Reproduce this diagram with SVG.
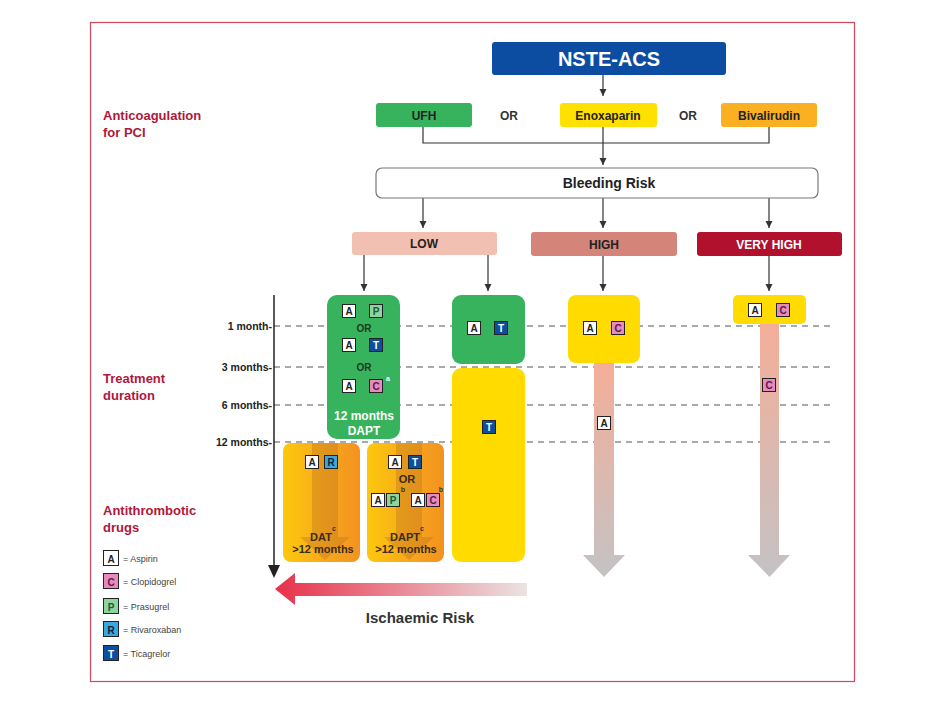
<svg xmlns="http://www.w3.org/2000/svg" width="945" height="720" viewBox="0 0 945 720">
<defs>
<style>
text{font-family:"Liberation Sans",Arial,sans-serif}
.lbl{font-size:13px;font-weight:bold;fill:#b0173a}
.bx{font-size:12px;font-weight:bold;fill:#222;text-anchor:middle}
.or{font-size:12px;font-weight:bold;fill:#333;text-anchor:middle}
.mo{font-size:10.5px;fill:#222;text-anchor:end;font-weight:bold}
.bt{font-size:10px;font-weight:bold;text-anchor:middle}
.lg{font-size:9px;fill:#444}
.sup{font-size:7px;fill:#333;text-anchor:middle;font-weight:bold}
.conn{stroke:#333;stroke-width:1.2;fill:none}
.dash{stroke:#555;stroke-width:1.2;stroke-dasharray:6 5;fill:none}
.bA{fill:#fff;stroke:#222;stroke-width:1}
.bC{fill:#e68ac0;stroke:#222;stroke-width:1}
.bP{fill:#8fd3a0;stroke:#222;stroke-width:1}
.bR{fill:#3aa8dd;stroke:#222;stroke-width:1}
.bT{fill:#0d4f9e;stroke:#222;stroke-width:1}
.ob{font-size:11px;fill:#3b2a18;text-anchor:middle;font-weight:bold}
</style>
<marker id="ah" viewBox="0 0 10 10" refX="10" refY="5" markerWidth="6" markerHeight="6" orient="auto-start-reverse"><path d="M0,0 L10,5 L0,10 z" fill="#333"/></marker>
<linearGradient id="og" x1="0" y1="0" x2="1" y2="0"><stop offset="0" stop-color="#fdc80c"/><stop offset="0.5" stop-color="#f8ab1c"/><stop offset="1" stop-color="#f39220"/></linearGradient>
<linearGradient id="pg" x1="0" y1="0" x2="0" y2="1"><stop offset="0" stop-color="#f4ae98"/><stop offset="1" stop-color="#c4c2c4"/></linearGradient>
<linearGradient id="rg" x1="0" y1="0" x2="1" y2="0"><stop offset="0" stop-color="#e8304a"/><stop offset="1" stop-color="#ebe3e3"/></linearGradient>
</defs>
<rect x="90.5" y="22.5" width="764" height="659" fill="#fff" stroke="#cf4a5c" stroke-width="1.2"/>

<!-- left labels -->
<g id="label-anticoag"><text class="lbl" x="103" y="120">Anticoagulation</text><text class="lbl" x="103" y="137">for PCI</text></g>
<g id="label-duration"><text class="lbl" x="103" y="383">Treatment</text><text class="lbl" x="103" y="400">duration</text></g>
<g id="label-drugs"><text class="lbl" x="103" y="515">Antithrombotic</text><text class="lbl" x="103" y="532">drugs</text></g>

<!-- timeline -->
<g id="timeline">
<line class="dash" x1="274" y1="326" x2="830" y2="326"/>
<line class="dash" x1="274" y1="367" x2="830" y2="367"/>
<line class="dash" x1="274" y1="405" x2="830" y2="405"/>
<line class="dash" x1="274" y1="442" x2="830" y2="442"/>
<text class="mo" x="272" y="330">1 month-</text>
<text class="mo" x="272" y="371">3 months-</text>
<text class="mo" x="272" y="409">6 months-</text>
<text class="mo" x="272" y="446">12 months-</text>
<line x1="274" y1="295" x2="274" y2="567" stroke="#222" stroke-width="1.5"/>
<path d="M268,565 L280,565 L274,578 z" fill="#222"/>
</g>

<!-- connectors -->
<g id="connectors">
<line class="conn" x1="603" y1="75" x2="603" y2="96" marker-end="url(#ah)"/>
<polyline class="conn" points="423,127 423,143 769,143 769,127"/>
<line class="conn" x1="603" y1="127" x2="603" y2="165" marker-end="url(#ah)"/>
<line class="conn" x1="423" y1="198" x2="423" y2="228" marker-end="url(#ah)"/>
<line class="conn" x1="603" y1="198" x2="603" y2="228" marker-end="url(#ah)"/>
<line class="conn" x1="769" y1="198" x2="769" y2="228" marker-end="url(#ah)"/>
<line class="conn" x1="364" y1="255" x2="364" y2="291" marker-end="url(#ah)"/>
<line class="conn" x1="488" y1="255" x2="488" y2="291" marker-end="url(#ah)"/>
<line class="conn" x1="603" y1="256" x2="603" y2="291" marker-end="url(#ah)"/>
<line class="conn" x1="769" y1="256" x2="769" y2="291" marker-end="url(#ah)"/>
</g>

<g id="nste-acs"><rect x="492" y="42" width="234" height="33" rx="3" fill="#0d4da1"/><text x="609" y="66" font-size="20" font-weight="bold" fill="#fff" text-anchor="middle">NSTE-ACS</text></g>
<g id="ufh"><rect x="376" y="103" width="96" height="24" rx="3" fill="#36b35c"/><text class="bx" x="424" y="119.5">UFH</text></g>
<g id="or1"><text class="or" x="509" y="119.5">OR</text></g>
<g id="enoxaparin"><rect x="560" y="103" width="97" height="24" rx="3" fill="#ffe100"/><text class="bx" x="608" y="119.5">Enoxaparin</text></g>
<g id="or2"><text class="or" x="688" y="119.5">OR</text></g>
<g id="bivalirudin"><rect x="721" y="103" width="96" height="24" rx="3" fill="#fbb022"/><text class="bx" x="769" y="119.5">Bivalirudin</text></g>
<g id="bleeding-risk"><rect x="376" y="168" width="442" height="30" rx="6" fill="#fff" stroke="#777" stroke-width="1.2"/><text x="609" y="188" font-size="14" font-weight="bold" fill="#222" text-anchor="middle">Bleeding Risk</text></g>
<g id="low"><rect x="352" y="232" width="145" height="23" rx="3" fill="#f2bfb3"/><text class="bx" x="424" y="248" font-size="11.5">LOW</text></g>
<g id="high"><rect x="531" y="232" width="146" height="24" rx="3" fill="#d5847a"/><text class="bx" x="604" y="248.5" font-size="11.5">HIGH</text></g>
<g id="very-high"><rect x="697" y="232" width="145" height="24" rx="3" fill="#b2112d"/><text class="bx" x="769" y="248.5" font-size="11.5" fill="#fff" style="fill:#fff">VERY HIGH</text></g>

<!-- LOW branch 1: 12 months DAPT -->
<g id="low-dapt12">
<rect x="327" y="295" width="73" height="144" rx="10" fill="#36b35c"/>
<rect class="bA" x="342.5" y="304.5" width="13" height="13"/><text class="bt" x="349" y="315" fill="#222">A</text>
<rect class="bP" x="369.5" y="304.5" width="13" height="13"/><text class="bt" x="376" y="315" fill="#1d5a2f">P</text>
<text class="bt" x="364" y="332" fill="#1d3a22" font-size="10.5">OR</text>
<rect class="bA" x="342.5" y="338.5" width="13" height="13"/><text class="bt" x="349" y="349" fill="#222">A</text>
<rect class="bT" x="369.5" y="338.5" width="13" height="13"/><text class="bt" x="376" y="349" fill="#fff">T</text>
<text class="bt" x="364" y="371" fill="#1d3a22" font-size="10.5">OR</text>
<rect class="bA" x="342.5" y="379.5" width="13" height="13"/><text class="bt" x="349" y="390" fill="#222">A</text>
<rect class="bC" x="369.5" y="379.5" width="13" height="13"/><text class="bt" x="376" y="390" fill="#5a1a3c">C</text>
<text class="sup" x="388" y="381" fill="#fff" style="fill:#fff" font-size="5">a</text>
<text x="364" y="420" font-size="12" font-weight="bold" fill="#fff" text-anchor="middle">12 months</text>
<text x="364" y="435" font-size="12" font-weight="bold" fill="#fff" text-anchor="middle">DAPT</text>
</g>

<!-- LOW branch 2: ticagrelor -->
<g id="low-ticagrelor">
<rect x="452" y="295" width="73" height="69" rx="9" fill="#36b35c"/>
<rect class="bA" x="467.5" y="321.5" width="13" height="13"/><text class="bt" x="474" y="332" fill="#222">A</text>
<rect class="bT" x="494.5" y="321.5" width="13" height="13"/><text class="bt" x="501" y="332" fill="#fff">T</text>
<rect x="452" y="368" width="73" height="194" rx="9" fill="#ffdb00"/>
<rect class="bT" x="482.5" y="420.5" width="13" height="13"/><text class="bt" x="489" y="431" fill="#fff">T</text>
</g>

<!-- extended DAT -->
<g id="ext-dat">
<rect x="283" y="443" width="77" height="119" rx="8" fill="url(#og)"/>
<path d="M312,443 L338,443 L338,537 L350,537 L325,560 L300,537 L312,537 z" fill="#a8601c" opacity="0.28"/>
<rect class="bA" x="305.5" y="455.5" width="13" height="13"/><text class="bt" x="312" y="466" fill="#222">A</text>
<rect class="bR" x="324.5" y="455.5" width="13" height="13"/><text class="bt" x="331" y="466" fill="#123">R</text>
<text class="ob" x="321" y="541">DAT</text>
<text class="sup" x="334" y="531">c</text>
<text class="ob" x="323" y="553">&gt;12 months</text>
</g>

<!-- extended DAPT -->
<g id="ext-dapt">
<rect x="367" y="443" width="77" height="119" rx="8" fill="url(#og)"/>
<path d="M396,443 L422,443 L422,537 L434,537 L409,560 L384,537 L396,537 z" fill="#a8601c" opacity="0.28"/>
<rect class="bA" x="388.5" y="455.5" width="13" height="13"/><text class="bt" x="395" y="466" fill="#222">A</text>
<rect class="bT" x="408.5" y="455.5" width="13" height="13"/><text class="bt" x="415" y="466" fill="#fff">T</text>
<text class="ob" x="407" y="483" font-size="10.5">OR</text>
<rect class="bA" x="371.5" y="493.5" width="13" height="13"/><text class="bt" x="378" y="504" fill="#222">A</text>
<rect class="bP" x="386.5" y="493.5" width="13" height="13"/><text class="bt" x="393" y="504" fill="#1d5a2f">P</text>
<text class="sup" x="403" y="492">b</text>
<rect class="bA" x="411.5" y="493.5" width="13" height="13"/><text class="bt" x="418" y="504" fill="#222">A</text>
<rect class="bC" x="426.5" y="493.5" width="13" height="13"/><text class="bt" x="433" y="504" fill="#5a1a3c">C</text>
<text class="sup" x="441" y="492">b</text>
<text class="ob" x="405" y="541">DAPT</text>
<text class="sup" x="422" y="531">c</text>
<text class="ob" x="406" y="553">&gt;12 months</text>
</g>

<!-- HIGH -->
<g id="high-plan">
<path d="M594,362 L614,362 L614,555 L625,555 L604,577 L583,555 L594,555 z" fill="url(#pg)"/>
<rect x="568" y="295" width="72" height="68" rx="8" fill="#ffdb00"/>
<rect class="bA" x="583.5" y="321.5" width="13" height="13"/><text class="bt" x="590" y="332" fill="#222">A</text>
<rect class="bC" x="611.5" y="321.5" width="13" height="13"/><text class="bt" x="618" y="332" fill="#5a1a3c">C</text>
<rect class="bA" x="597.5" y="416.5" width="13" height="13"/><text class="bt" x="604" y="427" fill="#222">A</text>
</g>

<!-- VERY HIGH -->
<g id="very-high-plan">
<path d="M760,322 L779,322 L779,555 L790,555 L769.5,577 L748,555 L760,555 z" fill="url(#pg)"/>
<rect x="733" y="295" width="73" height="29" rx="5" fill="#ffdb00"/>
<rect class="bA" x="748.5" y="303.5" width="13" height="13"/><text class="bt" x="755" y="314" fill="#222">A</text>
<rect class="bC" x="776.5" y="303.5" width="13" height="13"/><text class="bt" x="783" y="314" fill="#5a1a3c">C</text>
<rect class="bC" x="762.5" y="378.5" width="13" height="13"/><text class="bt" x="769" y="389" fill="#5a1a3c">C</text>
</g>

<!-- Ischaemic risk -->
<g id="ischaemic-risk">
<path d="M527,583 L295,583 L295,573 L275,589 L295,605 L295,596 L527,596 z" fill="url(#rg)"/>
<text x="420" y="623" font-size="15" font-weight="bold" fill="#333" text-anchor="middle">Ischaemic Risk</text>
</g>

<!-- legend -->
<g id="legend">
<rect class="bA" x="103.5" y="550.5" width="15" height="15"/><text class="bt" x="111" y="562.5" font-size="12" fill="#222">A</text><text class="lg" x="123" y="561.5">= Aspirin</text>
<rect class="bC" x="103.5" y="573.5" width="15" height="15"/><text class="bt" x="111" y="585.5" font-size="12" fill="#5a1a3c">C</text><text class="lg" x="123" y="584.5">= Clopidogrel</text>
<rect class="bP" x="103.5" y="598.5" width="15" height="15"/><text class="bt" x="111" y="610.5" font-size="12" fill="#1d5a2f">P</text><text class="lg" x="123" y="609.5">= Prasugrel</text>
<rect class="bR" x="103.5" y="621.5" width="15" height="15"/><text class="bt" x="111" y="633.5" font-size="12" fill="#123">R</text><text class="lg" x="123" y="632.5">= Rivaroxaban</text>
<rect class="bT" x="103.5" y="645.5" width="15" height="15"/><text class="bt" x="111" y="657.5" font-size="12" fill="#fff">T</text><text class="lg" x="123" y="656.5">= Ticagrelor</text>
</g>
</svg>
